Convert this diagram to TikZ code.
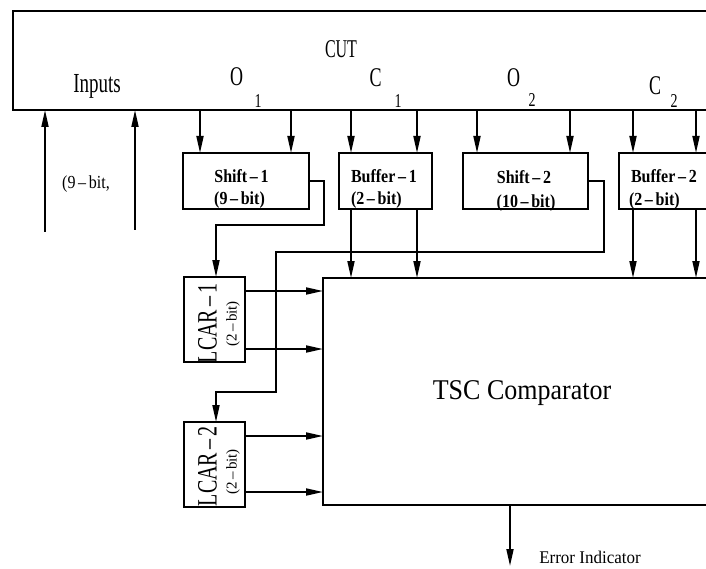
\documentclass[tikz,border=0pt]{standalone}
\usepackage{fontspec}
\usepackage{graphicx}
\setmainfont{Liberation Serif}
\usetikzlibrary{arrows.meta,calc}
\newcommand\sty[2]{\scalebox{1}[#1]{#2}}
\newcommand\fs[1]{\fontsize{#1}{#1}\selectfont}
\begin{document}
\begin{tikzpicture}[x=1pt,y=-1pt,
  box/.style={draw,line width=1.8pt,inner sep=0pt,outer sep=0pt},
  txt/.style={inner sep=0pt,outer sep=0pt},
  arr/.style={line width=1.8pt,-{Triangle[length=17pt,width=7pt]}},
  wire/.style={line width=1.8pt}]
\useasboundingbox (0,0) rectangle (706,569);
\clip (0,0) rectangle (706,569);
% boxes
\node[box,minimum width=718,minimum height=99] (cut) at (372,60.5) {};
\node[box,minimum width=126,minimum height=56] (shift1) at (246,181) {};
\node[box,minimum width=93,minimum height=56] (buf1) at (385.5,181) {};
\node[box,minimum width=125,minimum height=56] (shift2) at (525.5,181) {};
\node[box,minimum width=93,minimum height=56] (buf2) at (665.5,181) {};
\node[box,minimum width=61,minimum height=85] (lcar1) at (214.5,319.5) {};
\node[box,minimum width=61,minimum height=85] (lcar2) at (214.5,464.5) {};
\node[box,minimum width=408,minimum height=227] (tsc) at (527,391.5) {};
% labels
\node[txt,font=\fs{16}] (cutl) at (341,49) {\sty{1.6}{CUT}};
\node[txt,font=\fs{19},anchor=base] (inl) at (97,93) {\sty{1.45}{Inputs}};
\node[txt,font=\fs{18},anchor=base] (o1) at (236.5,86) {\sty{1.5}{O}};
\node[txt,font=\fs{14},anchor=base] (o1s) at (258,108) {\sty{1.4}{1}};
\node[txt,font=\fs{18},anchor=base] (c1) at (375.5,87) {\sty{1.5}{C}};
\node[txt,font=\fs{14},anchor=base] (c1s) at (398,108) {\sty{1.4}{1}};
\node[txt,font=\fs{18},anchor=base] (o2) at (513.5,87) {\sty{1.5}{O}};
\node[txt,font=\fs{14},anchor=base] (o2s) at (532,107) {\sty{1.4}{2}};
\node[txt,font=\fs{18},anchor=base] (c2) at (655,95) {\sty{1.5}{C}};
\node[txt,font=\fs{14},anchor=base] (c2s) at (674,108) {\sty{1.4}{2}};
\node[txt,font=\fs{16}] (bitl) at (86,184) {\sty{1.15}{(9\,--\,bit,}};
\node[txt,font=\bfseries\fs{16}] (s1a) at (241.5,176) {\sty{1.15}{Shift\,--\,1}};
\node[txt,font=\bfseries\fs{16}] (s1b) at (239.5,200) {\sty{1.15}{(9\,--\,bit)}};
\node[txt,font=\bfseries\fs{16},anchor=west] (b1a) at (351,176) {\sty{1.15}{Buffer\,--\,1}};
\node[txt,font=\bfseries\fs{16},anchor=west] (b1b) at (351,200) {\sty{1.15}{(2\,--\,bit)}};
\node[txt,font=\bfseries\fs{16}] (s2a) at (524,177.5) {\sty{1.15}{Shift\,--\,2}};
\node[txt,font=\bfseries\fs{16}] (s2b) at (526,203) {\sty{1.15}{(10\,--\,bit)}};
\node[txt,font=\bfseries\fs{16},anchor=west] (b2a) at (631,176.5) {\sty{1.15}{Buffer\,--\,2}};
\node[txt,font=\bfseries\fs{16},anchor=west] (b2b) at (629,201) {\sty{1.15}{(2\,--\,bit)}};
\node[txt,font=\fs{20},rotate=90] (l1a) at (207.5,323) {\sty{1.4}{LCAR\,--\,1}};
\node[txt,font=\fs{15},rotate=90] (l1b) at (233,324) {(2\,--\,bit)};
\node[txt,font=\fs{20},rotate=90] (l2a) at (207.5,466) {\sty{1.4}{LCAR\,--\,2}};
\node[txt,font=\fs{15},rotate=90] (l2b) at (233,472) {(2\,--\,bit)};
\node[txt,font=\fs{26}] (tscl) at (522,393.5) {\sty{1.1}{TSC Comparator}};
\node[txt,font=\fs{17}] (errl) at (590,557.5) {\sty{1.05}{Error Indicator}};
% input arrows
\coordinate (in1) at (45,232);
\coordinate (in2) at (135,230);
\draw[arr] (in1) -- (in1 |- cut.south);
\draw[arr] (in2) -- (in2 |- cut.south);
% CUT to boxes
\coordinate (a1) at ($(shift1.north west)+(17,0)$);
\coordinate (a2) at ($(shift1.north west)+(108,0)$);
\coordinate (a3) at ($(buf1.north west)+(12,0)$);
\coordinate (a4) at ($(buf1.north west)+(78,0)$);
\coordinate (a5) at ($(shift2.north west)+(14,0)$);
\coordinate (a6) at ($(shift2.north west)+(107,0)$);
\coordinate (a7) at ($(buf2.north west)+(14,0)$);
\coordinate (a8) at ($(buf2.north west)+(77,0)$);
\foreach \p in {a1,a2,a3,a4,a5,a6,a7,a8}
  \draw[arr] (cut.south -| \p) -- (\p);
% buffers to TSC
\coordinate (d1) at ($(buf1.south west)+(12,0)$);
\coordinate (d2) at ($(buf1.south west)+(78,0)$);
\coordinate (d3) at ($(buf2.south west)+(14,0)$);
\coordinate (d4) at ($(buf2.south west)+(77,0)$);
\foreach \p in {d1,d2,d3,d4}
  \draw[arr] (\p) -- (\p |- tsc.north);
% LCAR to TSC
\coordinate (e1) at ($(lcar1.north east)+(0,14)$);
\coordinate (e2) at ($(lcar1.north east)+(0,72)$);
\coordinate (e3) at ($(lcar2.north east)+(0,14)$);
\coordinate (e4) at ($(lcar2.north east)+(0,70)$);
\foreach \p in {e1,e2,e3,e4}
  \draw[arr] (\p) -- (\p -| tsc.west);
% shift outputs
\draw[arr] (shift1.east) -- ++(15,0) -- ++(0,44) -| ($(lcar1.north)+(1.5,0)$);
\draw[arr] (shift2.east) -- ++(16,0) -- ++(0,71) -- ++(-328,0) -- ++(0,140) -| ($(lcar2.north)+(1.5,0)$);
% error output
\coordinate (err) at (510,566);
\draw[arr] (tsc.south -| err) -- (err);
\end{tikzpicture}
\end{document}
